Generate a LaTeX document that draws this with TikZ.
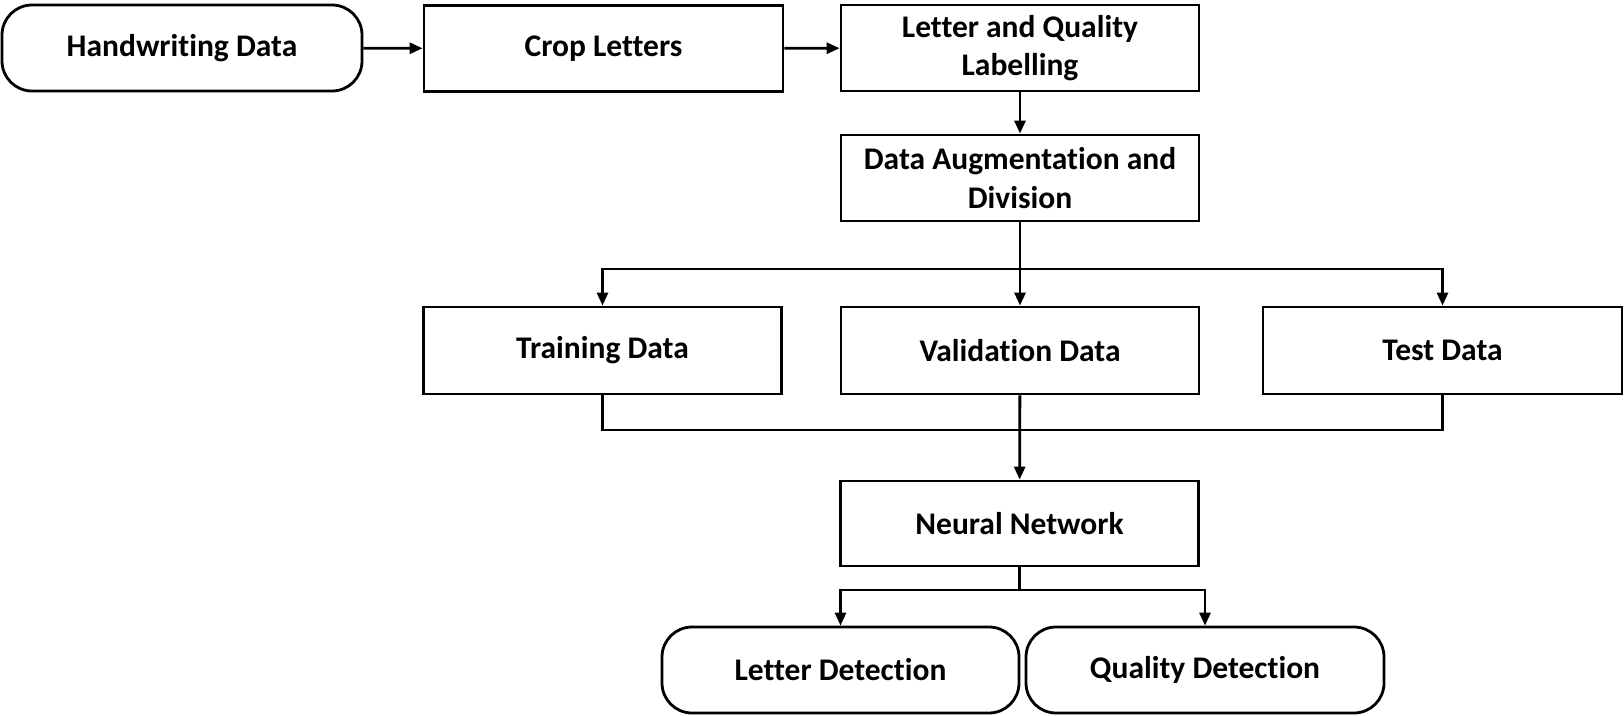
\documentclass[tikz,border=0pt]{standalone}
\usepackage{fontspec}
\setmainfont[Ligatures=NoCommon]{Carlito}
\usetikzlibrary{arrows.meta}
\begin{document}
\begin{tikzpicture}[x=1pt,y=-1pt,
  box/.style={draw, line width=2.8pt, minimum width=358pt, minimum height=86pt, inner sep=0pt, align=center, font=\fontsize{31.5}{38.5}\selectfont\bfseries},
  rbox/.style={box, rounded corners=30pt},
  arr/.style={line width=2.8pt, -{Triangle[length=13pt,width=11pt]}},
  ln/.style={line width=2.8pt}]
\useasboundingbox (0,0) rectangle (1624,715);
\node[rbox, minimum width=360pt] (hw) at (182,48) {Handwriting Data};
\node[box, minimum width=359pt] (crop) at (603.5,48.5) {Crop Letters};
\node[box] (lql) at (1020,48) {Letter and Quality\\Labelling};
\node[box] (aug) at (1020,178) {Data Augmentation and\\Division};
\node[box, minimum height=87pt] (train) at (602.5,350.5) {Training Data};
\node[box, minimum height=87pt] (val) at (1020,350.5) {Validation Data};
\node[box, minimum width=359pt, minimum height=87pt] (test) at (1442.5,350.5) {Test Data};
\node[box, minimum height=85pt] (nn) at (1019.5,523.5) {Neural Network};
\node[rbox, minimum width=357pt] (let) at (840.5,670) {Letter Detection};
\node[rbox] (qual) at (1205,670) {Quality Detection};
\coordinate (br) at (1020,269);
\coordinate (mg) at (1020,430);
\coordinate (sp) at (1019.5,590);
\draw[arr] (hw) -- (crop);
\draw[arr] (crop) -- (lql);
\draw[arr] (lql) -- (aug);
\draw[arr] (aug) -- (val);
\draw[arr] (br) -| (train);
\draw[arr] (br) -| (test);
\draw[ln] (train.south) |- (mg) -| (test.south);
\draw[arr] (val) -- (nn);
\draw[ln] (nn.south) -- (sp);
\draw[arr] (sp) -| (let);
\draw[arr] (sp) -| (qual);
\end{tikzpicture}
\end{document}
